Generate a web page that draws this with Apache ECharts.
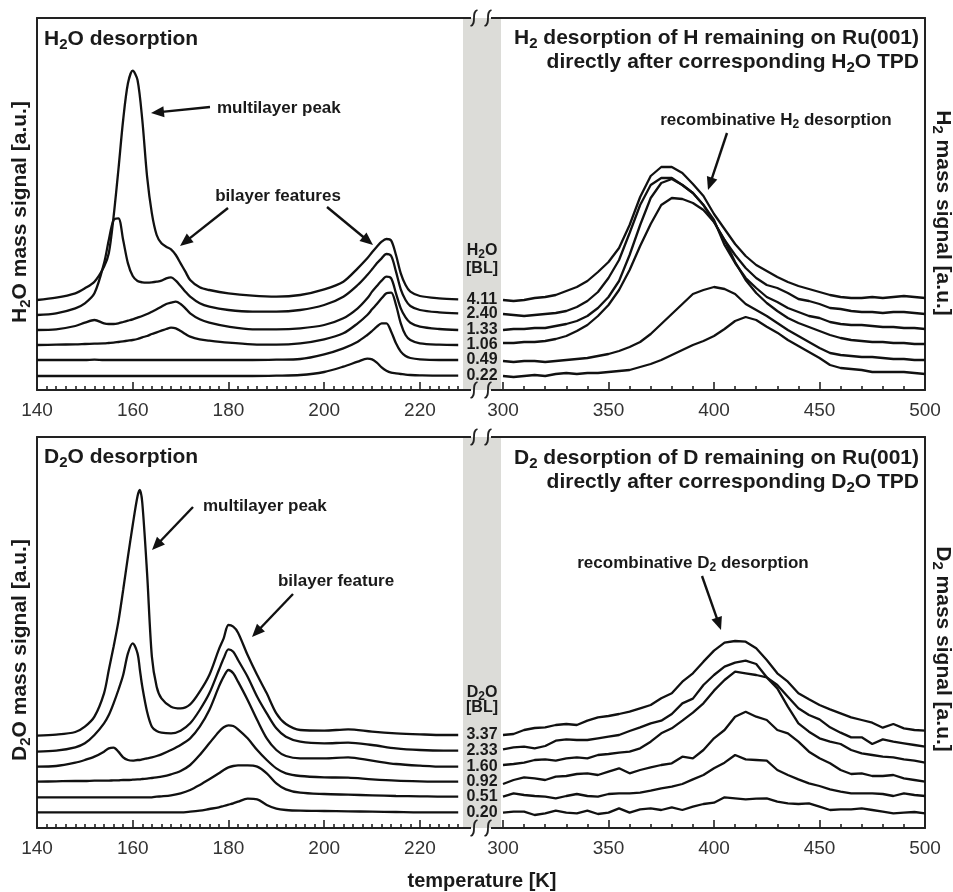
<!DOCTYPE html>
<html><head><meta charset="utf-8">
<script src="https://cdn.jsdelivr.net/npm/echarts@6/dist/echarts.min.js"></script>
<style>html,body{margin:0;padding:0;background:#fff}#c{width:953px;height:892px}</style>
</head><body><div id="c"></div>
<script>
// ---------------- DATA ----------------
// Top-left: H2O TPD, temperature [K]
const tH2O = [140,144,148,150,152,154,155,156,157,158,159,160,161,162,163,164,165,166,167,168,169,170,171,172,174,176,180,185,190,195,200,204,207,209,210,211,212,213,214,215,216,217,218,220,224,228];
const h2o_411 = [270,277,290,305,325,370,410,520,660,810,920,958,930,810,640,530,465,440,430,422,405,380,355,330,308,300,290,283,280,285,302,325,365,395,413,430,445,453,448,405,350,315,295,282,275,272];
const h2o_240 = [225,230,245,260,290,380,450,510,515,450,380,342,327,323,322,323,325,328,335,338,328,312,295,280,260,250,240,235,235,240,255,280,315,345,362,380,395,408,402,355,302,270,252,240,233,230];
const h2o_133 = [180,182,192,202,210,200,198,198,200,204,208,212,217,222,228,235,242,250,258,262,265,258,245,230,212,202,190,182,182,185,195,215,245,275,295,312,328,340,335,290,245,218,202,190,183,180];
const h2o_106 = [135,136,137,138,139,140,141,142,144,146,148,150,153,158,162,168,173,178,183,187,185,177,168,160,152,148,142,137,136,140,152,170,200,225,242,258,275,290,292,255,200,165,150,140,136,135];
const h2o_049 = [90,90,90,90,91,90, 90,90,90,90,90,90,90,90,90,90,90,90,90,90,90,90,90,90, 90,90,90,90,91,93,107,125,145,165, 177,190,200,200,175,140,115,102,96, 92,90,90];
const h2o_022 = [42,42,42,42,42,42, 42,42,42,42,42,42,42,42,42,42,42,42,42,42,42,42,42,42, 42,42,42,42,43,45,54,70,85,94, 92,82,68,58,52,50,48,46,45, 44,43,43];

// Top-right: H2 desorption
const tH2 = [300,305,310,315,320,325,330,335,340,345,350,355,360,365,370,375,380,385,390,395,400,405,410,415,420,425,430,435,440,445,450,455,460,465,470,475,480,485,490,495,500];
const h2_411 = [270,267,270,276,279,285,297,309,327,354,384,426,495,579,642,669,669,651,618,582,528,483,438,402,375,357,339,324,312,303,294,285,279,276,276,279,276,279,282,279,276];
const h2_240 = [228,225,222,225,228,231,237,249,267,294,336,390,471,555,615,636,636,615,591,555,504,450,405,366,336,315,306,291,273,267,258,246,243,237,234,234,231,234,234,231,228];
const h2_133 = [180,183,183,186,186,192,198,207,222,246,279,327,405,495,576,621,633,615,591,555,510,435,381,336,306,279,264,246,234,222,216,204,198,195,195,192,189,189,186,186,183];
const h2_106 = [141,141,144,144,147,153,162,177,195,222,255,300,360,432,498,555,576,573,561,540,504,450,384,330,291,261,237,216,201,189,177,165,156,150,147,144,144,141,141,138,138];
const h2_049 = [87,84,87,87,84,87,90,93,96,102,108,117,129,144,168,198,228,258,288,300,309,303,288,258,240,222,201,180,162,144,126,111,105,102,99,99,96,93,93,90,90];
const h2_022 = [42,39,42,45,42,48,51,48,51,51,54,57,60,69,78,90,105,120,135,147,162,183,207,219,210,190,172,150,132,114,96,75,66,63,60,54,54,54,54,51,48];

// Bottom-left: D2O TPD
const tD2O = [140,144,148,150,152,154,155,156,157,158,159,160,161,161.5,162,163,164,165,166,168,170,172,174,176,178,179,180,181,182,184,186,188,190,192,195,200,205,210,215,220,225,228];
const d2o_337 = [277,280,288,304,334,404,474,544,619,714,814,909,995,1014, 975,764,514,424,389, 364,359,371,409,459,536, 569,609,604,586, 519,459,404,344,312, 294,292,296,289,284,281,279,279];
const d2o_233 = [229,232,242,254,279,314,339,374,414,459,524,554,524,474, 424,349,304,291,286, 284,292,314,354,404,474, 509,536,529,504, 454,394,344,299,274, 259,254,256,249,239,234,232,232];
const d2o_160 = [184,186,196,204,214,229,239,241,229,212,204,202,204,204, 206,209,212,216,221, 234,249,269,304,354,424, 454,474,464,439, 384,324,269,234,216, 209,209,212,202,192,187,184,184];
const d2o_092 = [139,140,141,141,142,142,142,143,143,144,144,145,146,146, 147,148,150,152,154, 161,171,189,219,254,289, 302,308,306,296, 269,234,204,179,164, 156,152,151,146,142,140,139,139];
const d2o_051 = [92,92,92,92,92,92,92,92,92,92,92,92,92,92, 92,92,92,94,95, 98,104,114,129,146,164, 174,182,186,188, 188,184,164,134,116, 106,102,100,98,96,95,94,94];
const d2o_020 = [47,47,47,47,47,47,47,47,47,47,47,47,47,47, 47,47,47,47,47, 47,47,49,52,57,62, 66,70,74,79, 88,86,69,58,54, 52,51,50,49,48,47,47,47];

// Bottom-right: D2 desorption
const tD2 = [300,305,310,315,320,325,330,335,340,345,350,355,360,365,370,375,380,385,390,395,400,405,410,415,420,425,430,435,440,445,450,455,460,465,470,475,480,485,490,495,500];
const d2_337 = [279,282,294,300,302,309,312,309,322,332,336,342,349,359,369,389,404,439,464,499,532,556,561,559,539,504,464,439,404,386,369,356,344,332,324,316,301,312,299,294,292];
const d2_233 = [236,242,244,239,246,262,266,264,264,269,274,279,291,302,314,322,342,374,388,429,459,484,496,502,492,452,429,394,359,339,326,302,286,272,272,252,266,259,254,249,244];
const d2_160 = [189,192,196,204,206,202,209,212,209,219,222,226,229,239,259,284,299,322,346,374,412,444,469,464,459,452,419,364,314,289,269,259,252,234,224,219,214,212,206,202,196];
const d2_092 = [132,144,152,149,144,154,156,162,164,159,169,179,164,174,182,189,194,214,209,234,269,294,334,349,334,324,294,284,259,229,209,194,174,162,164,156,156,159,149,144,139];
const d2_051 = [94,104,99,96,94,89,96,102,96,94,102,104,104,106,112,119,124,132,146,159,179,196,219,206,204,202,174,159,146,134,126,116,109,104,104,104,102,96,104,99,96];
const d2_020 = [46,49,49,39,44,52,46,44,52,42,46,59,46,56,59,54,62,54,64,72,76,92,89,86,88,89,79,74,72,74,64,54,56,56,59,54,49,44,46,48,44];

// Coverage labels and tick labels
const covH2O = ['4.11','2.40','1.33','1.06','0.49','0.22'];
const covD2O = ['3.37','2.33','1.60','0.92','0.51','0.20'];
const ticksLowT = [140,160,180,200,220];
const ticksHighT = [300,350,400,450,500];

// ---------------- CHART ----------------
const FF = '"Liberation Sans", Arial, Helvetica, sans-serif';
const INK = '#1a1a1a';
const minorLow = [];
for (let t = 142; t <= 228; t += 2) if (ticksLowT.indexOf(t) < 0) minorLow.push(t);

const grids = [
  {left:37, top:18, width:426, height:372},
  {left:503, top:18, width:422, height:372},
  {left:37, top:437, width:426, height:391},
  {left:503, top:437, width:422, height:391}
];
const axLine = {show:true, onZero:false, lineStyle:{color:'#222', width:2}};
const noLine = {show:false, onZero:false};
const tickStyle = {color:'#222', width:1.6};
const lblStyle = {fontSize:19, color:'#333', fontFamily:FF, margin:11};

function lowAxes(g){
  return [
    {gridIndex:g, type:'value', min:140, max:229, position:'bottom', axisLine:axLine,
     axisTick:{show:true, inside:true, length:8, customValues:ticksLowT, lineStyle:tickStyle},
     axisLabel:Object.assign({show:true, customValues:ticksLowT}, lblStyle), splitLine:{show:false}},
    {gridIndex:g, type:'value', min:140, max:229, position:'bottom', axisLine:noLine,
     axisTick:{show:true, inside:true, length:4, customValues:minorLow, lineStyle:tickStyle},
     axisLabel:{show:false}, splitLine:{show:false}},
    {gridIndex:g, type:'value', min:140, max:229, position:'top', axisLine:axLine,
     axisTick:{show:false}, axisLabel:{show:false}, splitLine:{show:false}}
  ];
}
function highAxes(g){
  return [
    {gridIndex:g, type:'value', min:300, max:500, interval:50, position:'bottom', axisLine:axLine,
     axisTick:{show:true, inside:true, length:8, customValues:ticksHighT, lineStyle:tickStyle},
     minorTick:{show:true, splitNumber:5, length:4, lineStyle:tickStyle},
     axisLabel:Object.assign({show:true, customValues:ticksHighT}, lblStyle), splitLine:{show:false}, minorSplitLine:{show:false}},
    {gridIndex:g, type:'value', min:300, max:500, position:'top', axisLine:axLine,
     axisTick:{show:false}, axisLabel:{show:false}, splitLine:{show:false}}
  ];
}
const xAxes = [].concat(lowAxes(0), highAxes(1), lowAxes(2), highAxes(3));
function yAx(g, max, pos){
  return {gridIndex:g, type:'value', min:0, max:max, position:pos, axisLine:axLine,
          axisTick:{show:false}, axisLabel:{show:false}, splitLine:{show:false}};
}
const yAxes = [yAx(0,1116,'left'), yAx(1,1116,'right'), yAx(2,1173,'left'), yAx(3,1173,'right')];

function mk(ts, vs, xi, yi, smooth){
  return {type:'line', xAxisIndex:xi, yAxisIndex:yi, data: ts.map((t,i)=>[t, vs[i]]),
          symbol:'none', showSymbol:false, smooth:smooth, silent:true,
          lineStyle:{color:'#111', width:2.3}};
}
const series = [];
[h2o_411,h2o_240,h2o_133,h2o_106,h2o_049,h2o_022].forEach(v=>series.push(mk(tH2O, v, 0, 0, 0.3)));
[h2_411,h2_240,h2_133,h2_106,h2_049,h2_022].forEach(v=>series.push(mk(tH2, v, 3, 1, false)));
[d2o_337,d2o_233,d2o_160,d2o_092,d2o_051,d2o_020].forEach(v=>series.push(mk(tD2O, v, 5, 2, 0.3)));
[d2_337,d2_233,d2_160,d2_092,d2_051,d2_020].forEach(v=>series.push(mk(tD2, v, 8, 3, false)));

const chart = echarts.init(document.getElementById('c'), null, {renderer:'canvas'});
chart.setOption({
  animation:false, backgroundColor:'#fff',
  grid:grids, xAxis:xAxes, yAxis:yAxes, series:series
});

// ---------------- GRAPHICS ----------------
// Text with real subscript "2" (written as _2 in the source strings)
function txt(str, x, y, size, align, rot){
  const parts = str.split('_2');
  let rt = '';
  parts.forEach((p,i)=>{ if (p.length) rt += '{n|' + p + '}'; if (i < parts.length-1) rt += '{s|2}'; });
  const sub = Math.round(size*0.72);
  return {type:'text', x:x, y:y, z:100, rotation:rot||0,
    style:{text:rt, fill:INK, fontSize:size, fontWeight:'bold', fontFamily:FF,
           align:align||'left', verticalAlign:'middle', textAlign:align||'left', textVerticalAlign:'middle',
           rich:{
             n:{fontSize:size, fontWeight:'bold', fontFamily:FF, fill:INK},
             s:{fontSize:sub, fontWeight:'bold', fontFamily:FF, fill:INK, padding:[Math.round(size*0.5),0,0,0]}
           }}};
}
function arrow(x1,y1,x2,y2){
  const dx=x2-x1, dy=y2-y1, L=Math.hypot(dx,dy), ux=dx/L, uy=dy/L, hl=13, hw=5.5;
  const bx=x2-ux*hl, by=y2-uy*hl;
  return [
    {type:'line', z:100, shape:{x1:x1,y1:y1,x2:bx+ux*2,y2:by+uy*2}, style:{stroke:'#111', lineWidth:2.4}},
    {type:'polygon', z:100, shape:{points:[[x2,y2],[bx-uy*hw,by+ux*hw],[bx+uy*hw,by-ux*hw]]}, style:{fill:'#111'}}
  ];
}
function brk(y){
  const out = [
    {type:'line', z:100, shape:{x1:463,y1:y,x2:471,y2:y}, style:{stroke:'#222', lineWidth:2}},
    {type:'line', z:100, shape:{x1:491,y1:y,x2:503,y2:y}, style:{stroke:'#222', lineWidth:2}}
  ];
  [474,488].forEach(x=>out.push({type:'bezierCurve', z:101,
    shape:{x1:x-3.5,y1:y+8,cpx1:x+3.5,cpy1:y+6,cpx2:x-3.5,cpy2:y-6,x2:x+3.5,y2:y-8},
    style:{stroke:'#222', lineWidth:1.8, fill:null}}));
  return out;
}

let g = [];
g.push({type:'rect', z:-1, shape:{x:463,y:18,width:38,height:372}, style:{fill:'#dcdcd8'}});
g.push({type:'rect', z:-1, shape:{x:463,y:437,width:38,height:391}, style:{fill:'#dcdcd8'}});
[18,390,437,828].forEach(y=>{ g = g.concat(brk(y)); });

// Titles
g.push(txt('H_2O desorption', 44, 39, 21, 'left'));
g.push(txt('H_2 desorption of H remaining on Ru(001)', 919, 38, 21, 'right'));
g.push(txt('directly after corresponding H_2O TPD', 919, 62, 21, 'right'));
g.push(txt('D_2O desorption', 44, 457, 21, 'left'));
g.push(txt('D_2 desorption of D remaining on Ru(001)', 919, 458, 21, 'right'));
g.push(txt('directly after corresponding D_2O TPD', 919, 482, 21, 'right'));
// Axis names
g.push(txt('H_2O mass signal [a.u.]', 20, 212, 21, 'center', Math.PI/2));
g.push(txt('D_2O mass signal [a.u.]', 20, 650, 21, 'center', Math.PI/2));
g.push(txt('H_2 mass signal [a.u.]', 943, 213, 21, 'center', -Math.PI/2));
g.push(txt('D_2 mass signal [a.u.]', 943, 649, 21, 'center', -Math.PI/2));
g.push(txt('temperature [K]', 482, 881, 20, 'center'));
// Annotations
g.push(txt('multilayer peak', 217, 108, 17, 'left'));
g = g.concat(arrow(210,107,151,113));
g.push(txt('bilayer features', 278, 196, 17, 'center'));
g = g.concat(arrow(228,208,180,246), arrow(327,207,373,245));
g.push(txt('recombinative H_2 desorption', 776, 120, 17, 'center'));
g = g.concat(arrow(727,133,708,190));
g.push(txt('multilayer peak', 203, 506, 17, 'left'));
g = g.concat(arrow(193,507,152,550));
g.push(txt('bilayer feature', 336, 581, 17, 'center'));
g = g.concat(arrow(293,594,252,637));
g.push(txt('recombinative D_2 desorption', 693, 563, 17, 'center'));
g = g.concat(arrow(702,576,721,630));

// Coverage labels in the break band, placed at each curve's end level
g.push(txt('H_2O', 482, 251, 16, 'center'));
g.push(txt('[BL]', 482, 269, 16, 'center'));
g.push(txt('D_2O', 482, 693, 16, 'center'));
g.push(txt('[BL]', 482, 708, 16, 'center'));
const leftTop = [h2o_411,h2o_240,h2o_133,h2o_106,h2o_049,h2o_022];
const leftBot = [d2o_337,d2o_233,d2o_160,d2o_092,d2o_051,d2o_020];
leftTop.forEach((v,k)=>{
  const p = chart.convertToPixel({seriesIndex:k}, [tH2O[tH2O.length-1], v[v.length-1]]);
  g.push(txt(covH2O[k], 482, p[1], 16, 'center'));
});
leftBot.forEach((v,k)=>{
  const p = chart.convertToPixel({seriesIndex:12+k}, [tD2O[tD2O.length-1], v[v.length-1]]);
  g.push(txt(covD2O[k], 482, p[1], 16, 'center'));
});

chart.setOption({graphic:{elements:g}});
</script></body></html>
